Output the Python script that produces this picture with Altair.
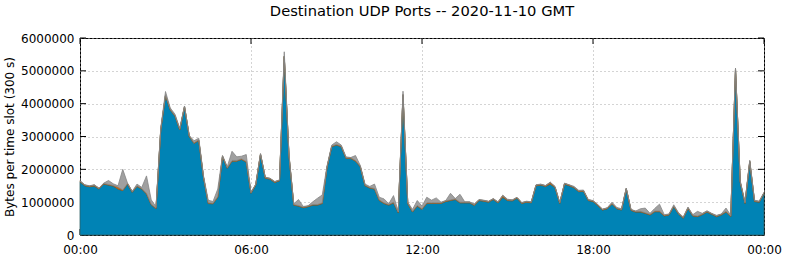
import altair as alt
import pandas as pd

# 10-minute slots across the day (values in millions of bytes per 300 s slot)
slot_hours = [i / 6 for i in range(145)]

blue = [
    1.62, 1.50, 1.47, 1.49, 1.40, 1.55, 1.52, 1.49, 1.40, 1.35,
    1.55, 1.30, 1.48, 1.40, 1.25, 0.92, 0.80, 3.20, 4.25, 3.81,
    3.62, 3.20, 3.90, 3.00, 2.79, 2.88, 1.75, 0.96, 0.95, 1.15,
    2.39, 2.03, 2.25, 2.25, 2.30, 2.22, 1.27, 1.52, 2.45, 1.73,
    1.70, 1.60, 1.65, 5.43, 2.40, 0.91, 0.88, 0.83, 0.86, 0.91,
    0.91, 0.96, 2.05, 2.69, 2.74, 2.69, 2.33, 2.33, 2.25, 2.08,
    1.50, 1.43, 1.40, 1.05, 0.96, 0.91, 0.98, 0.68, 4.26, 0.96,
    0.70, 0.88, 0.78, 0.96, 0.96, 0.96, 0.96, 1.02, 1.05, 1.08,
    0.98, 0.98, 0.98, 0.90, 1.05, 1.03, 1.00, 1.08, 0.98, 1.15,
    1.05, 1.04, 1.12, 0.96, 1.00, 0.98, 1.50, 1.52, 1.48, 1.55,
    1.45, 0.96, 1.55, 1.50, 1.44, 1.32, 1.33, 1.05, 1.02, 0.90,
    0.76, 0.80, 0.94, 0.80, 0.76, 1.40, 0.75, 0.70, 0.70, 0.66,
    0.61, 0.71, 0.71, 0.58, 0.61, 0.86, 0.64, 0.51, 0.81, 0.58,
    0.56, 0.62, 0.70, 0.63, 0.56, 0.61, 0.70, 0.56, 5.05, 1.60,
    0.96, 2.23, 1.02, 1.00, 1.27,
]

orange = [
    0.02, 0.02, 0.02, 0.03, 0.02, 0.02, 0.02, 0.02, 0.06, 0.02,
    0.02, 0.02, 0.02, 0.02, 0.02, 0.02, 0.02, 0.02, 0.02, 0.02,
    0.02, 0.02, 0.02, 0.02, 0.02, 0.02, 0.02, 0.02, 0.02, 0.02,
    0.02, 0.02, 0.02, 0.02, 0.02, 0.02, 0.02, 0.02, 0.02, 0.02,
    0.02, 0.02, 0.02, 0.02, 0.02, 0.02, 0.02, 0.02, 0.02, 0.02,
    0.02, 0.02, 0.02, 0.02, 0.02, 0.02, 0.02, 0.02, 0.02, 0.02,
    0.02, 0.02, 0.02, 0.02, 0.02, 0.02, 0.02, 0.02, 0.02, 0.02,
    0.02, 0.02, 0.02, 0.02, 0.02, 0.02, 0.02, 0.02, 0.02, 0.02,
    0.02, 0.02, 0.02, 0.02, 0.02, 0.02, 0.02, 0.02, 0.02, 0.05,
    0.02, 0.02, 0.02, 0.02, 0.02, 0.02, 0.02, 0.02, 0.02, 0.05,
    0.02, 0.02, 0.02, 0.02, 0.02, 0.02, 0.02, 0.02, 0.02, 0.02,
    0.02, 0.02, 0.02, 0.02, 0.02, 0.02, 0.02, 0.02, 0.02, 0.02,
    0.02, 0.02, 0.02, 0.02, 0.02, 0.02, 0.02, 0.02, 0.02, 0.02,
    0.02, 0.02, 0.02, 0.02, 0.02, 0.02, 0.02, 0.02, 0.02, 0.02,
    0.02, 0.02, 0.02, 0.02, 0.02,
]

grey = [
    0.02, 0.01, 0.01, 0.01, 0.01, 0.01, 0.12, 0.05, 0.04, 0.63,
    0.01, 0.01, 0.05, 0.03, 0.53, 0.13, 0.04, 0.03, 0.10, 0.04,
    0.04, 0.03, 0.01, 0.01, 0.06, 0.05, 0.03, 0.08, 0.05, 0.23,
    0.01, 0.03, 0.28, 0.11, 0.08, 0.21, 0.01, 0.01, 0.01, 0.01,
    0.01, 0.01, 0.01, 0.13, 0.03, 0.02, 0.18, 0.02, 0.01, 0.08,
    0.19, 0.24, 0.03, 0.03, 0.08, 0.03, 0.03, 0.01, 0.15, 0.02,
    0.03, 0.03, 0.13, 0.08, 0.12, 0.02, 0.20, 0.02, 0.10, 0.02,
    0.06, 0.15, 0.08, 0.17, 0.08, 0.15, 0.02, 0.01, 0.20, 0.01,
    0.24, 0.01, 0.01, 0.03, 0.01, 0.01, 0.01, 0.01, 0.01, 0.01,
    0.02, 0.01, 0.01, 0.01, 0.01, 0.01, 0.01, 0.01, 0.01, 0.01,
    0.01, 0.01, 0.01, 0.01, 0.02, 0.02, 0.02, 0.01, 0.01, 0.01,
    0.01, 0.01, 0.04, 0.02, 0.02, 0.01, 0.01, 0.01, 0.08, 0.14,
    0.03, 0.08, 0.21, 0.02, 0.01, 0.04, 0.02, 0.02, 0.02, 0.02,
    0.14, 0.02, 0.02, 0.01, 0.02, 0.01, 0.10, 0.02, 0.01, 0.03,
    0.02, 0.03, 0.02, 0.01, 0.01,
]

series_names = ["main", "other1", "other2"]
fill_colors = ["#0083b5", "#d2691e", "#a0a0a0"]
stroke_colors = ["#2d5f66", "#8a5a20", "#858585"]

x_ticks = [0, 6, 12, 18, 24]
y_ticks = [0, 1000000, 2000000, 3000000, 4000000, 5000000, 6000000]

rows = []
for k, (name, vals) in enumerate(zip(series_names, [blue, orange, grey])):
    for h, v in zip(slot_hours, vals):
        rows.append({"h": h, "v": v * 1e6, "s": name, "o": k})
df = pd.DataFrame(rows)

W, H = 684, 197
FONT = "DejaVu Sans"
grid_kw = dict(grid=True, gridDash=[1, 3], gridColor="#a8a8a8", gridWidth=1)

x_axis = alt.Axis(
    values=x_ticks,
    labelExpr="(datum.value % 24 < 10 ? '0' : '') + (datum.value % 24) + ':00'",
    title=None, tickSize=0, domain=False, labelPadding=9,
    labelFontSize=12, labelFont=FONT, labelColor="black",
    labelFlush=False, labelOverlap=False, **grid_kw,
)
y_axis = alt.Axis(
    values=y_ticks, format="d", title="Bytes per time slot (300 s)",
    titleFontSize=12, titleFont=FONT, titleFontWeight="normal",
    titleColor="black", titlePadding=4, tickSize=0, domain=False,
    labelPadding=6, labelFontSize=12, labelFont=FONT, labelColor="black",
    labelOverlap=False, labelFlush=False, **grid_kw,
)
x_scale = alt.Scale(domain=[0, 24], nice=False, zero=False)
y_scale = alt.Scale(domain=[0, 6000000], nice=False)

area = alt.Chart(df).mark_area(strokeWidth=0.8).encode(
    x=alt.X("h:Q", scale=x_scale, axis=x_axis),
    y=alt.Y("v:Q", stack="zero", scale=y_scale, axis=y_axis),
    fill=alt.Fill("s:N", scale=alt.Scale(domain=series_names, range=fill_colors), legend=None),
    stroke=alt.Stroke("s:N", scale=alt.Scale(domain=series_names, range=stroke_colors), legend=None),
    order=alt.Order("o:Q"),
)

ydf = pd.DataFrame({"t": y_ticks})
xdf = pd.DataFrame({"t": x_ticks})

tick_left = alt.Chart(ydf).mark_rule(color="black", strokeWidth=1).encode(
    y=alt.Y("t:Q", scale=y_scale, axis=y_axis), x=alt.value(0), x2=alt.value(6))
tick_right = alt.Chart(ydf).mark_rule(color="black", strokeWidth=1).encode(
    y=alt.Y("t:Q", scale=y_scale, axis=y_axis), x=alt.value(W - 6), x2=alt.value(W))
tick_top = alt.Chart(xdf).mark_rule(color="black", strokeWidth=1).encode(
    x=alt.X("t:Q", scale=x_scale, axis=x_axis), y=alt.value(0), y2=alt.value(6))
tick_bot = alt.Chart(xdf).mark_rule(color="black", strokeWidth=1).encode(
    x=alt.X("t:Q", scale=x_scale, axis=x_axis), y=alt.value(H - 6), y2=alt.value(H))

chart = alt.layer(tick_left, tick_right, tick_top, tick_bot, area).properties(
    width=W,
    height=H,
    title=alt.TitleParams(
        text="Destination UDP Ports -- 2020-11-10 GMT",
        font=FONT, fontSize=14.7, fontWeight="normal", color="black",
        anchor="middle", frame="group", offset=13,
    ),
    autosize=alt.AutoSizeParams(type="none"),
    padding={"left": 80, "top": 38, "right": 22, "bottom": 25},
).configure_view(stroke="black", strokeWidth=1)

chart.save("out.html", embed_options={"renderer": "svg", "actions": False})
